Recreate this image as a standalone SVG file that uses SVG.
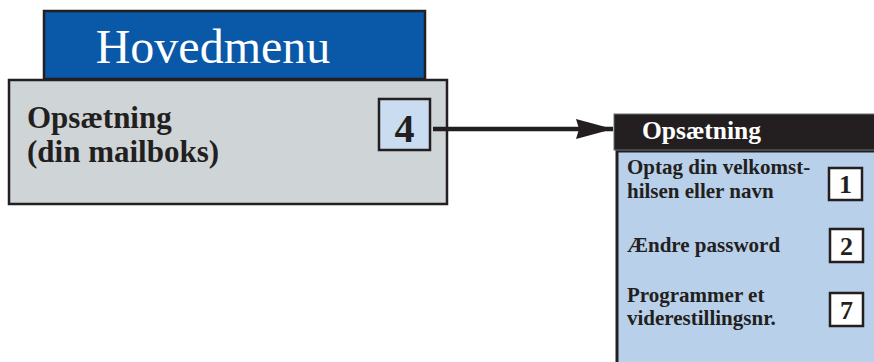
<svg xmlns="http://www.w3.org/2000/svg" width="874" height="362" viewBox="0 0 874 362">
<style>
.b{font-family:"Liberation Serif","Times New Roman",serif;font-weight:bold;fill:#231f20}
.w{fill:#ffffff}
.num{stroke:#231f20;stroke-width:2.5}
</style>
<defs>
<marker id="ah" markerUnits="userSpaceOnUse" markerWidth="40" markerHeight="24" refX="37" refY="10" orient="auto" viewBox="0 0 40 24">
<path d="M0,0 L37,10 L0,20 L3,10 Z" fill="#231f20"/>
</marker>
</defs>
<rect width="874" height="362" fill="#ffffff"/>
<g id="hovedmenu">
<rect x="44" y="11" width="381" height="68" fill="#0a58a8" stroke="#231f20" stroke-width="2.5"/>
<text x="213" y="63" text-anchor="middle" font-family="Liberation Serif, Times New Roman, serif" font-size="48" fill="#ffffff">Hovedmenu</text>
</g>
<g id="opsaetning-main">
<rect x="9" y="80" width="438" height="124" fill="#cfd4d7" stroke="#231f20" stroke-width="2.5"/>
<text class="b" x="27" y="128" font-size="31">Opsætning</text>
<text class="b" x="27" y="162" font-size="31">(din mailboks)</text>
<rect class="num" x="379" y="99" width="51" height="51" fill="#c9dcf0"/>
<text class="b" x="404.5" y="142" font-size="40" text-anchor="middle">4</text>
</g>
<g id="connectors">
<line x1="433" y1="129" x2="613" y2="129" stroke="#231f20" stroke-width="4.5" marker-end="url(#ah)"/>
</g>
<g id="opsaetning-menu">
<rect x="617" y="151" width="260" height="215" fill="#b8d0ea" stroke="#231f20" stroke-width="3"/>
<rect x="614" y="114" width="262" height="36" fill="#231f20" stroke="#6d6e70" stroke-width="1"/>
<text class="b w" x="642" y="139" font-size="25.5">Opsætning</text>
<text class="b" x="627" y="174" font-size="21">Optag din velkomst-</text>
<text class="b" x="627" y="198" font-size="21">hilsen eller navn</text>
<rect class="num" x="829" y="168" width="33" height="32" fill="#ffffff"/>
<text class="b" x="845.5" y="193" font-size="26" text-anchor="middle">1</text>
<text class="b" x="627" y="252" font-size="21">Ændre password</text>
<rect class="num" x="830" y="229" width="33" height="33" fill="#ffffff"/>
<text class="b" x="846.5" y="255" font-size="26" text-anchor="middle">2</text>
<text class="b" x="627" y="302" font-size="21">Programmer et</text>
<text class="b" x="627" y="325" font-size="21">viderestillingsnr.</text>
<rect class="num" x="830" y="293" width="33" height="33" fill="#ffffff"/>
<text class="b" x="846.5" y="319" font-size="26" text-anchor="middle">7</text>
</g>
</svg>
